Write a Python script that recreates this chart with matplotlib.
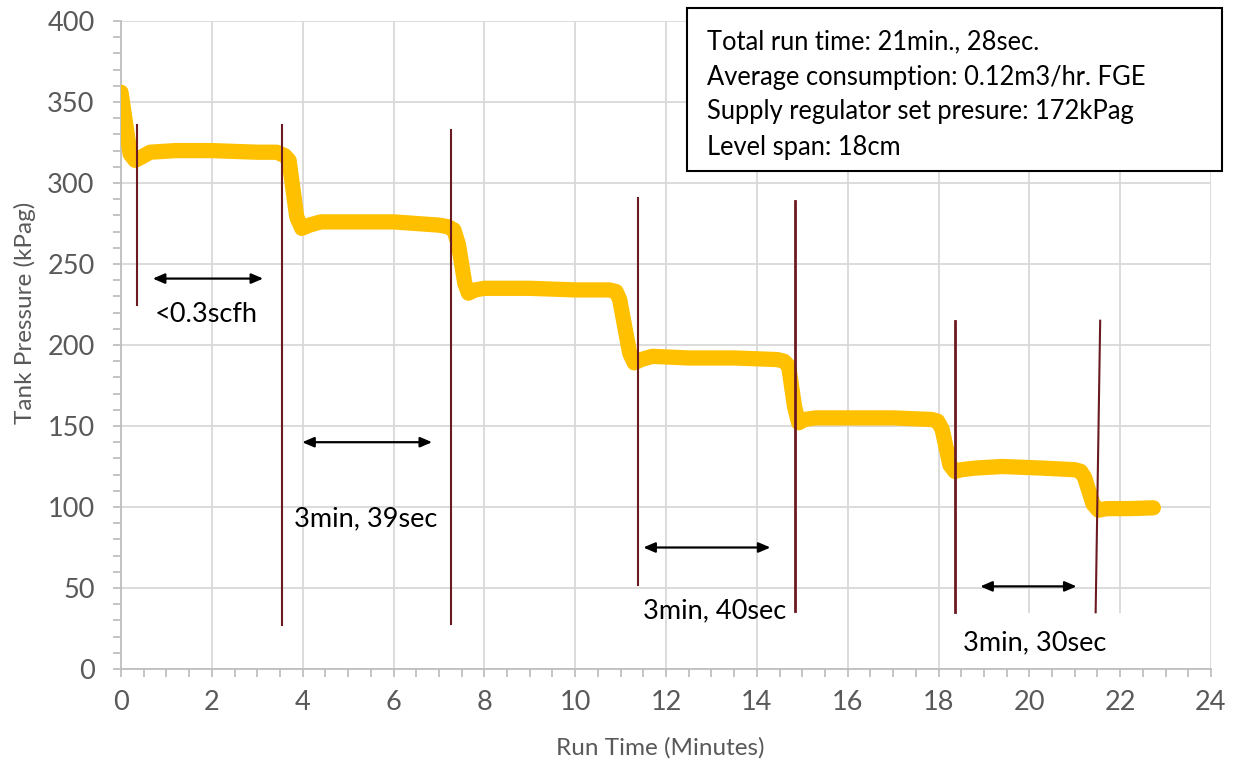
import numpy as np
import matplotlib.pyplot as plt
from matplotlib.patches import Rectangle
from matplotlib.ticker import MultipleLocator

plt.rcParams['font.family'] = ['Lato', 'DejaVu Sans']

# tank pressure trace (minutes, kPag)
run_time = [0.0, 0.2, 0.31, 0.45, 0.64, 1.2, 2.0, 3.0, 3.43, 3.6, 3.7, 3.87, 3.98, 4.15, 4.4, 5.0, 6.0,
            7.0, 7.2, 7.33, 7.43, 7.57, 7.65, 7.8, 8.0, 9.0, 10.0, 10.75, 10.9, 10.98, 11.2, 11.3, 11.45,
            11.7, 12.5, 13.5, 14.45, 14.6, 14.7, 14.83, 14.92, 15.05, 15.3, 16.0, 17.0, 17.85, 17.98,
            18.08, 18.25, 18.36, 18.5, 18.8, 19.4, 20.3, 21.0, 21.13, 21.22, 21.4, 21.52, 21.7, 22.2,
            22.73]
pressure = [356, 318, 314, 316, 319, 320, 320, 319, 319, 317, 314, 279, 272, 274, 276, 276, 276,
            274, 273, 271, 262, 238, 232, 234, 235, 235, 234, 234, 233, 228, 195, 189, 191,
            193, 192, 192, 191, 190, 187, 162, 152, 154, 155, 155, 155, 154, 153,
            148, 126, 122, 123, 124, 125, 124, 123, 122, 118, 102, 98, 99, 99,
            99.5]

# hand-drawn interval markers: x at top, x at bottom, top and bottom pressure
marker_x_top = [0.35, 3.55, 7.27, 11.39, 14.85, 18.37, 21.56]
marker_x_bot = [0.35, 3.55, 7.27, 11.39, 14.85, 18.37, 21.46]
marker_y_top = [336, 336, 333, 291, 289, 215, 215]
marker_y_bot = [225, 27, 28, 52, 36, 35, 35]
marker_lw = [1.5, 1.5, 1.5, 1.5, 2.0, 2.0, 1.5]

# double arrows: start, end, height
arrow_x0 = [0.7, 3.99, 11.5, 18.92]
arrow_x1 = [3.13, 6.85, 14.3, 21.04]
arrow_y = [241, 140, 75, 51]

notes = ['<0.3scfh', '3min, 39sec', '3min, 40sec', '3min, 30sec']
note_x = [0.75, 3.8, 11.5, 18.55]
note_y = [219, 93, 36, 16]

info_lines = ['Total run time: 21min., 28sec.',
              'Average consumption: 0.12m3/hr. FGE',
              'Supply regulator set presure: 172kPag',
              'Level span: 18cm']

fig = plt.figure(figsize=(12.36, 7.65), dpi=100)
ax = fig.add_axes([121 / 1236, 1 - 669 / 765, 1090 / 1236, 648 / 765])

ax.plot(run_time, pressure, color='#FFC000', lw=11, solid_capstyle='round',
        solid_joinstyle='round', zorder=3)

for xt, xb, yt, yb, w in zip(marker_x_top, marker_x_bot, marker_y_top, marker_y_bot, marker_lw):
    ax.plot([xt, xb], [yt, yb], color='#6B1A22', lw=w, zorder=4)

for x0, x1, y in zip(arrow_x0, arrow_x1, arrow_y):
    ax.annotate('', xy=(x1, y), xytext=(x0, y),
                arrowprops=dict(arrowstyle='<|-|>,head_length=0.7,head_width=0.3',
                                color='black', lw=1.6, shrinkA=0, shrinkB=0), zorder=5)

# white patch behind the last note
ax.add_patch(Rectangle((18.03, 0.4), 4.0, 34.2, facecolor='white', edgecolor='none', zorder=2))

for s, x, y in zip(notes, note_x, note_y):
    ax.text(x, y, s, fontsize=19.5, color='black', va='center', ha='left', zorder=6)

ax.set_xlim(0, 24)
ax.set_ylim(0, 400)
ax.xaxis.set_major_locator(MultipleLocator(2))
ax.xaxis.set_minor_locator(MultipleLocator(0.5))
ax.yaxis.set_major_locator(MultipleLocator(50))
ax.yaxis.set_minor_locator(MultipleLocator(10))
ax.grid(True, which='major', color='#D9D9D9', lw=1.3)
ax.set_axisbelow(True)
for side in ['top', 'right']:
    ax.spines[side].set_visible(False)
for side in ['left', 'bottom']:
    ax.spines[side].set_color('#BFBFBF')
    ax.spines[side].set_linewidth(1.3)
ax.tick_params(which='both', color='#BFBFBF', length=6, width=1.3, labelcolor='#595959', labelsize=19.5)
ax.tick_params(axis='x', pad=9)
ax.tick_params(axis='y', pad=13)

ax.set_xlabel('Run Time (Minutes)', fontsize=17.5, color='#595959')
ax.set_ylabel('Tank Pressure (kPag)', fontsize=17.5, color='#595959')
ax.xaxis.label.set_va('center')
ax.yaxis.label.set_va('center')
ax.xaxis.set_label_coords((660 - 121) / 1090, (669 - 748) / 648)
ax.yaxis.set_label_coords((25 - 121) / 1090, (669 - 313) / 648)

# info box, partly outside the axes
fig.patches.append(Rectangle((687 / 1236, 1 - 171 / 765), 535 / 1236, 163 / 765,
                             transform=fig.transFigure, facecolor='white',
                             edgecolor='black', lw=1.5, zorder=10))
for i, line in enumerate(info_lines):
    fig.text(707 / 1236, 1 - (42 + 35 * i) / 765, line, fontsize=18.4, color='black',
             va='center', ha='left', zorder=11)

fig.savefig('out.png', dpi=100)
